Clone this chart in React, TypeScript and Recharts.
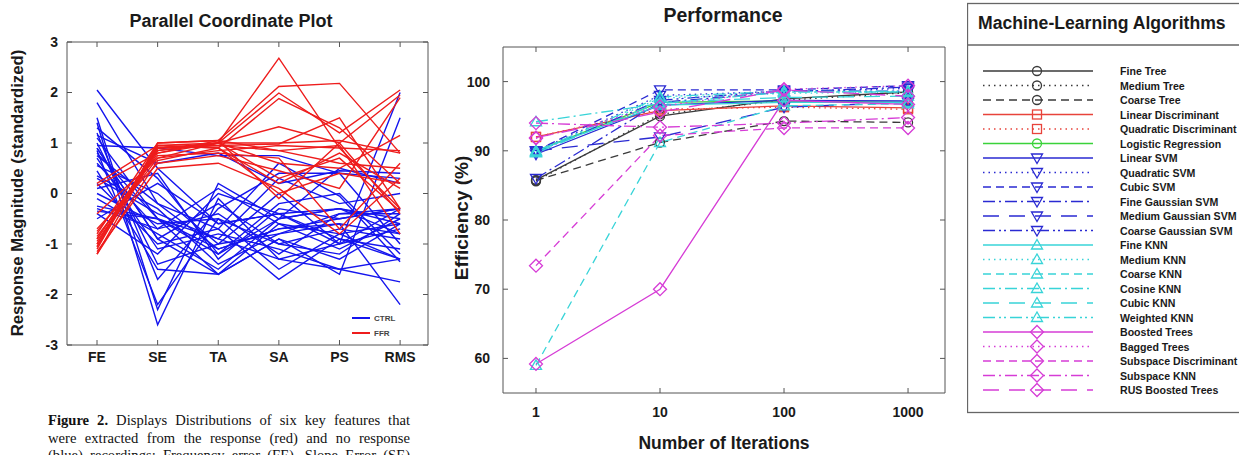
import React from 'react';
import { LineChart, Line, XAxis, YAxis } from 'recharts';

// ---------- Parallel coordinate plot data ----------
const features = ['FE', 'SE', 'TA', 'SA', 'PS', 'RMS'];
const featureIndex = [0, 1, 2, 3, 4, 5];
const paraTicks = [-3, -2, -1, 0, 1, 2, 3];

// CTRL (no response) lines: values at FE, SE, TA, SA, PS, RMS
const ctrlLines: number[][] = [
  [2.05, 0.5, -0.6, -0.4, -0.9, -1.3],
  [1.8, -0.2, -1.1, -0.7, -0.5, -0.3],
  [1.5, -2.3, 0.2, -0.5, -0.3, -0.6],
  [1.4, -2.6, -0.1, -1.3, -1.0, 2.0],
  [1.2, -1.7, -0.3, 0.4, 0.4, -1.0],
  [1.1, -0.5, -1.6, -0.9, -1.6, 1.5],
  [1.0, -1.4, -1.0, -0.8, -0.6, -0.8],
  [0.95, 0.9, 0.75, 0.75, 0.4, 0.3],
  [0.9, -0.9, -1.6, -0.6, -1.1, -0.5],
  [0.85, -2.2, -0.5, -1.5, -0.8, -1.3],
  [0.8, -0.5, -1.2, -0.5, 0.5, 0.2],
  [0.7, -1.1, -0.8, -1.1, -1.5, -1.3],
  [0.6, -0.7, 0.1, -0.6, -0.8, -0.6],
  [0.55, 0.0, -1.0, 0.0, -1.0, -0.3],
  [0.35, -0.3, -1.4, -0.8, -0.4, -0.4],
  [0.3, -0.4, -0.9, 0.3, -0.2, 0.0],
  [0.2, -1.0, -0.7, -1.7, -0.9, -1.1],
  [0.1, 0.4, -1.3, -0.3, -0.5, -0.3],
  [0.0, -0.6, -0.5, -1.0, -1.2, -0.4],
  [-0.1, -0.8, -1.5, -0.5, -0.3, -0.5],
  [-0.25, -0.5, -0.9, -1.3, -1.5, -1.75],
  [-0.35, -0.5, -1.1, -0.7, -0.6, -2.2],
  [-0.4, -1.2, 0.0, -0.4, -1.0, -0.7],
  [-0.5, 0.2, -0.6, -0.4, -0.3, -0.8],
  [1.3, 0.3, -1.2, -0.2, 0.0, -1.2],
  [0.9, -0.9, -0.2, -1.0, -0.7, -0.9],
  [1.15, 0.6, 0.8, 0.2, 0.45, 0.4],
  [0.45, -1.5, -1.6, -0.9, -1.3, -0.6],
  [-0.3, -0.7, -0.4, -1.2, -0.4, -0.3],
  [0.75, -0.2, -0.7, 0.6, -0.05, -1.35],
];

// FFR (response) lines
const ffrLines: number[][] = [
  [-1.2, 0.9, 1.0, 2.68, 0.9, -0.3],
  [-1.1, 1.0, 1.05, 2.12, 2.18, 0.8],
  [-1.05, 0.85, 1.0, 1.99, 1.2, 2.05],
  [-1.0, 0.95, 0.9, 1.88, 1.3, 0.2],
  [-0.95, 0.8, 1.0, 1.32, 1.0, 1.95],
  [-0.9, 0.9, 0.95, 0.98, 1.5, -0.3],
  [-0.85, 0.7, 0.85, 0.95, 0.9, 0.85],
  [-0.8, 1.0, 1.05, 0.85, 0.6, 0.5],
  [-0.75, 0.75, 0.8, 0.7, -0.7, 0.6],
  [-0.7, 0.6, 0.75, 0.45, 0.1, 1.9],
  [0.2, 0.95, 0.9, 0.2, 0.8, 0.1],
  [0.15, 0.8, 1.05, -0.1, 1.0, -0.4],
  [-1.15, 0.5, 0.6, 0.1, -0.8, 0.3],
  [-1.0, 0.9, 0.95, 0.85, 0.95, -0.8],
  [-0.9, 0.85, 1.0, 0.6, 0.5, 1.15],
  [-1.05, 0.95, 1.0, 1.0, 1.05, 0.8],
  [-0.4, 0.7, 1.0, 0.3, 0.7, -0.35],
  [-1.2, 0.65, 0.9, 0.0, 0.4, 0.2],
];

// ---------- Performance data ----------
const iterations = [1, 10, 100, 1000];
const efficiencyTicks = [60, 70, 80, 90, 100];
const algorithmNames = [
  'Fine Tree', 'Medium Tree', 'Coarse Tree', 'Linear Discriminant', 'Quadratic Discriminant',
  'Logistic Regression', 'Linear SVM', 'Quadratic SVM', 'Cubic SVM', 'Fine Gaussian SVM',
  'Medium Gaussian SVM', 'Coarse Gaussian SVM', 'Fine KNN', 'Medium KNN', 'Coarse KNN',
  'Cosine KNN', 'Cubic KNN', 'Weighted KNN', 'Boosted Trees', 'Bagged Trees',
  'Subspace Discriminant', 'Subspace KNN', 'RUS Boosted Trees',
];
const efficiencyValues: number[][] = [
  [85.8, 95.0, 97.5, 98.5],
  [85.6, 95.3, 97.3, 98.4],
  [85.7, 91.2, 94.3, 94.1],
  [92.0, 95.8, 96.5, 96.2],
  [92.0, 96.0, 96.3, 96.0],
  [90.0, 97.0, 97.2, 97.0],
  [89.5, 96.6, 97.3, 97.2],
  [90.0, 98.0, 98.6, 99.0],
  [90.0, 98.8, 98.8, 99.4],
  [86.0, 97.0, 98.5, 99.2],
  [90.0, 92.0, 96.3, 97.0],
  [89.8, 97.3, 98.7, 98.6],
  [90.0, 96.6, 97.0, 97.0],
  [89.8, 97.6, 98.3, 98.5],
  [59.0, 91.2, 96.5, 96.8],
  [94.2, 96.8, 98.5, 98.5],
  [89.7, 97.0, 97.7, 97.9],
  [89.9, 97.8, 98.6, 98.6],
  [59.2, 70.0, 97.3, 96.7],
  [91.8, 96.4, 98.9, 99.4],
  [73.4, 92.2, 93.3, 93.3],
  [94.0, 93.4, 94.0, 94.8],
  [91.9, 95.6, 98.8, 97.9],
];

// ---------- caption ----------
const captionLines = [
  'Displays Distributions of six key features that',
  'were extracted from the response (red) and no response',
  '(blue) recordings: Frequency error (FE), Slope Error (SE)',
];

// ---------- styles ----------
const BLACK = '#3a3a3a';
const RED = '#e8433b';
const GREEN = '#3ad23a';
const BLUE = '#2a2ad2';
const CYAN = '#38d4d8';
const MAGENTA = '#d63cd6';
const algorithmColors = [
  BLACK, BLACK, BLACK, RED, RED, GREEN,
  BLUE, BLUE, BLUE, BLUE, BLUE, BLUE,
  CYAN, CYAN, CYAN, CYAN, CYAN, CYAN,
  MAGENTA, MAGENTA, MAGENTA, MAGENTA, MAGENTA,
];
const SOLID = undefined;
const DOT = '1.5 4';
const DASH = '8 5';
const DASHDOT = '12 4 2 4';
const LONG = '16 10';
const DASHDOTDOT = '12 4 2 3 2 4';
const algorithmDashes = [
  SOLID, DOT, DASH, SOLID, DOT, SOLID,
  SOLID, DOT, DASH, DASHDOT, LONG, DASHDOTDOT,
  SOLID, DOT, DASH, DASHDOT, LONG, DASHDOTDOT,
  SOLID, DOT, DASH, DASHDOT, LONG,
];
const algorithmMarkers = [
  'circle', 'circle', 'circle', 'square', 'square', 'circle',
  'tdown', 'tdown', 'tdown', 'tdown', 'tdown', 'tdown',
  'tup', 'tup', 'tup', 'tup', 'tup', 'tup',
  'diamond', 'diamond', 'diamond', 'diamond', 'diamond',
];

const SANS = '"Liberation Sans", Arial, sans-serif';
const SERIF = '"Liberation Serif", "Times New Roman", serif';

const paraRows = featureIndex.map((i) => {
  const row: Record<string, number> = { x: i };
  ctrlLines.forEach((l, j) => { row['c' + j] = l[i]; });
  ffrLines.forEach((l, j) => { row['f' + j] = l[i]; });
  return row;
});

const perfRows = iterations.map((it, i) => {
  const row: Record<string, number> = { it };
  efficiencyValues.forEach((v, j) => { row['s' + j] = v[i]; });
  return row;
});

function Marker({ kind, cx, cy, color }: { kind: string; cx: number; cy: number; color: string }) {
  const common = { fill: 'none', stroke: color, strokeWidth: 1.3 };
  if (cx == null || cy == null || isNaN(cx) || isNaN(cy)) return <g />;
  switch (kind) {
    case 'circle':
      return <circle cx={cx} cy={cy} r={4.5} {...common} />;
    case 'square':
      return <rect x={cx - 4.5} y={cy - 4.5} width={9} height={9} {...common} />;
    case 'tdown':
      return <polygon points={`${cx - 5.5},${cy - 4} ${cx + 5.5},${cy - 4} ${cx},${cy + 5.5}`} {...common} />;
    case 'tup':
      return <polygon points={`${cx - 5.5},${cy + 4} ${cx + 5.5},${cy + 4} ${cx},${cy - 5.5}`} {...common} />;
    default:
      return <polygon points={`${cx},${cy - 6.5} ${cx + 6.5},${cy} ${cx},${cy + 6.5} ${cx - 6.5},${cy}`} {...common} />;
  }
}

const tickStyle = { fontSize: 14, fontWeight: 700, fill: '#1a1a1a', fontFamily: SANS };
const FRAME = '#555';

function ParallelPlot() {
  const xDomain: [number, number] = [-0.495, 5.46];
  return (
    <div style={{ position: 'absolute', left: 0, top: 0 }}>
      <LineChart width={440} height={375} data={paraRows} margin={{ top: 12, right: 1, bottom: 5, left: 7 }}>
        <XAxis xAxisId="b" dataKey="x" type="number" domain={xDomain} allowDataOverflow ticks={featureIndex}
          interval={0} tickFormatter={(v: number) => features[v]} height={25} tickSize={-5} tickMargin={12}
          stroke={FRAME} tick={tickStyle} />
        <XAxis xAxisId="t" dataKey="x" type="number" orientation="top" domain={xDomain} allowDataOverflow
          ticks={featureIndex} interval={0} tickFormatter={() => ''} height={30} tickSize={-5} stroke={FRAME} />
        <YAxis yAxisId="l" type="number" domain={[-3, 3]} allowDataOverflow ticks={paraTicks} interval={0}
          width={60} tickSize={-5} tickMargin={14} stroke={FRAME} tick={tickStyle} />
        <YAxis yAxisId="r" type="number" orientation="right" domain={[-3, 3]} allowDataOverflow ticks={paraTicks}
          interval={0} width={11} tickSize={-5} tickFormatter={() => ''} stroke={FRAME} />
        {ctrlLines.map((_, j) => (
          <Line key={'c' + j} xAxisId="b" yAxisId="l" dataKey={'c' + j} stroke="#1414ee" strokeWidth={1.4}
            dot={false} activeDot={false} isAnimationActive={false} />
        ))}
        {ffrLines.map((_, j) => (
          <Line key={'f' + j} xAxisId="b" yAxisId="l" dataKey={'f' + j} stroke="#ee1c1c" strokeWidth={1.4}
            dot={false} activeDot={false} isAnimationActive={false} />
        ))}
      </LineChart>
      <svg width={440} height={375} style={{ position: 'absolute', left: 0, top: 0, pointerEvents: 'none' }}>
        <line x1={352} x2={370} y1={318} y2={318} stroke="#1414ee" strokeWidth={2} />
        <text x={374} y={318} dominantBaseline="central" fontSize={8} fontWeight={700} fill="#444" fontFamily={SANS}>CTRL</text>
        <line x1={352} x2={370} y1={333} y2={333} stroke="#ee1c1c" strokeWidth={2} />
        <text x={374} y={333} dominantBaseline="central" fontSize={8} fontWeight={700} fill="#444" fontFamily={SANS}>FFR</text>
      </svg>
      <div style={{ position: 'absolute', left: 231, top: 21, transform: 'translate(-50%,-50%)', whiteSpace: 'nowrap',
        fontFamily: SANS, fontWeight: 700, fontSize: 18, color: '#1a1a1a' }}>Parallel Coordinate Plot</div>
      <div style={{ position: 'absolute', left: 18, top: 193, transform: 'translate(-50%,-50%) rotate(-90deg)', whiteSpace: 'nowrap',
        fontFamily: SANS, fontWeight: 700, fontSize: 16.7, color: '#1a1a1a' }}>Response Magnitude (standardized)</div>
    </div>
  );
}

function PerformancePlot() {
  const xDomain: [number, number] = [0.542, 1986];
  return (
    <div style={{ position: 'absolute', left: 440, top: 0 }}>
      <LineChart width={520} height={455} data={perfRows} margin={{ top: 17, right: 5, bottom: 32, left: 13 }}>
        <XAxis xAxisId="b" dataKey="it" type="number" scale="log" domain={xDomain} allowDataOverflow ticks={iterations}
          interval={0} height={30} tickSize={-5} tickMargin={19} stroke={FRAME} tick={tickStyle} />
        <XAxis xAxisId="t" dataKey="it" type="number" scale="log" orientation="top" domain={xDomain} allowDataOverflow
          ticks={iterations} interval={0} tickFormatter={() => ''} height={30} tickSize={-5} stroke={FRAME} />
        <YAxis yAxisId="l" type="number" domain={[55, 105]} allowDataOverflow ticks={efficiencyTicks} interval={0}
          width={50} tickSize={-5} tickMargin={18} stroke={FRAME} tick={tickStyle} />
        <YAxis yAxisId="r" type="number" orientation="right" domain={[55, 105]} allowDataOverflow ticks={efficiencyTicks}
          interval={0} width={10} tickSize={-5} tickFormatter={() => ''} stroke={FRAME} />
        {algorithmNames.map((name, j) => (
          <Line key={name} name={name} xAxisId="b" yAxisId="l" dataKey={'s' + j} stroke={algorithmColors[j]}
            strokeWidth={1.3} strokeDasharray={algorithmDashes[j]} activeDot={false} isAnimationActive={false}
            dot={(p: any) => (
              <Marker key={'m' + j + '-' + p.index} kind={algorithmMarkers[j]} cx={p.cx} cy={p.cy} color={algorithmColors[j]} />
            )} />
        ))}
      </LineChart>
      <div style={{ position: 'absolute', left: 283, top: 15, transform: 'translate(-50%,-50%)', whiteSpace: 'nowrap',
        fontFamily: SANS, fontWeight: 700, fontSize: 19.5, color: '#1a1a1a' }}>Performance</div>
      <div style={{ position: 'absolute', left: 284, top: 443, transform: 'translate(-50%,-50%)', whiteSpace: 'nowrap',
        fontFamily: SANS, fontWeight: 700, fontSize: 17.5, color: '#1a1a1a' }}>Number of Iterations</div>
      <div style={{ position: 'absolute', left: 22, top: 218, transform: 'translate(-50%,-50%) rotate(-90deg)', whiteSpace: 'nowrap',
        fontFamily: SANS, fontWeight: 700, fontSize: 19, color: '#1a1a1a' }}>Efficiency (%)</div>
    </div>
  );
}

function AlgorithmLegend() {
  const top0 = 71;
  const step = 14.5;
  return (
    <svg width={272} height={455} style={{ position: 'absolute', left: 967, top: 0 }}>
      <rect x={0.5} y={3.5} width={300} height={409} fill="none" stroke="#666" strokeWidth={1.3} />
      <line x1={0.5} x2={300} y1={45} y2={45} stroke="#666" strokeWidth={1.3} />
      <text x={11} y={23} dominantBaseline="central" fontFamily={SANS} fontWeight={700} fontSize={17.6} fill="#1a1a1a">
        Machine-Learning Algorithms
      </text>
      {algorithmNames.map((name, j) => {
        const y = top0 + step * j;
        return (
          <g key={name}>
            <line x1={16} x2={126} y1={y} y2={y} stroke={algorithmColors[j]} strokeWidth={1.3}
              strokeDasharray={algorithmDashes[j]} />
            <Marker kind={algorithmMarkers[j]} cx={70} cy={y} color={algorithmColors[j]} />
            <text x={153} y={y} dominantBaseline="central" fontFamily={SANS} fontWeight={700} fontSize={10.6} fill="#1a1a1a">
              {name}
            </text>
          </g>
        );
      })}
    </svg>
  );
}

function Caption() {
  return (
    <div style={{ position: 'absolute', left: 48, top: 412, width: 362, fontFamily: SERIF,
      fontSize: 14.6, lineHeight: '17.5px', color: '#111' }}>
      {captionLines.map((t, i) => (
        <div key={i} style={{ textAlign: 'justify', textAlignLast: 'justify', height: 17.5 }}>
          {i === 0 ? <b>Figure 2. </b> : null}{t}
        </div>
      ))}
    </div>
  );
}

export default function App() {
  return (
    <div style={{ position: 'absolute', left: 0, top: 0, width: 1239, height: 455, overflow: 'hidden', background: '#fff' }}>
      <ParallelPlot />
      <PerformancePlot />
      <AlgorithmLegend />
      <Caption />
    </div>
  );
}
